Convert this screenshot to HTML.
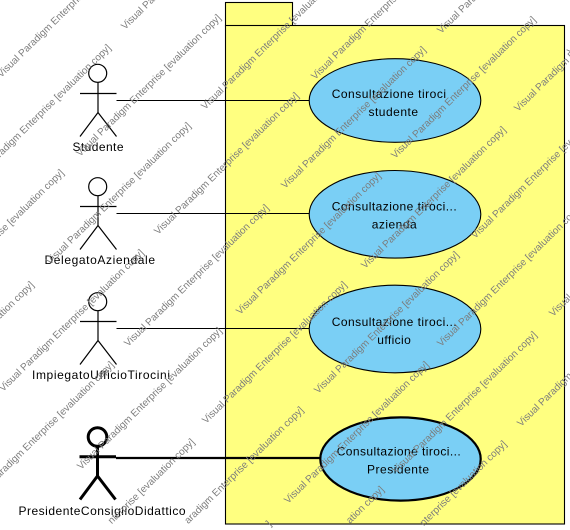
<!DOCTYPE html>
<html>
<head>
<meta charset="utf-8">
<title>Use case diagram</title>
<style>
html,body{margin:0;padding:0;background:#fff;width:570px;height:530px;overflow:hidden;}
svg{display:block;overflow:hidden;}
.lbl{font-family:"Liberation Sans",sans-serif;font-size:12px;fill:#000;}
.wm text{font-family:"Liberation Sans",sans-serif;font-size:10px;fill:#7c7c7c;}
.act{fill:none;stroke:#000;stroke-width:1.2;}
.act4{fill:none;stroke:#000;stroke-width:3;}
</style>
</head>
<body>
<svg width="570" height="530" viewBox="0 0 570 530" xmlns="http://www.w3.org/2000/svg">
<rect width="570" height="530" fill="#fff"/>

<g>
<rect x="225.5" y="2.5" width="67" height="23.5" fill="#ffff80" stroke="#000" stroke-width="1.1"/>
<rect x="225.5" y="25.5" width="339" height="498.5" fill="#ffff80" stroke="#000" stroke-width="1.1"/>
</g>

<line x1="116.5" y1="100.5" x2="310" y2="100.5" stroke="#000" stroke-width="1.1"/>
<line x1="116.5" y1="213.5" x2="310" y2="213.5" stroke="#000" stroke-width="1.1"/>
<line x1="116.5" y1="328.5" x2="310" y2="328.5" stroke="#000" stroke-width="1.1"/>
<line x1="116" y1="458" x2="321" y2="458" stroke="#000" stroke-width="2.2"/>

<g>
<circle class="act" cx="97.7" cy="73.3" r="9"/>
<path class="act" d="M98 82.3V112.5M80 93.5H116.5M80 136.5L98 112.5L116.5 136.5"/>
<text class="lbl" x="72.5" y="151" textLength="51" lengthAdjust="spacing">Studente</text>
</g>
<g>
<circle class="act" cx="97.7" cy="186.7" r="9"/>
<path class="act" d="M98 195.7V225.5M80 206.5H116.5M80 249.5L98 225.5L116.5 249.5"/>
<text class="lbl" x="44.5" y="264" textLength="110.5" lengthAdjust="spacing">DelegatoAziendale</text>
</g>
<g>
<circle class="act" cx="97.7" cy="301.7" r="9"/>
<path class="act" d="M98 310.7V340.5M80 321.5H116.5M80 364.5L98 340.5L116.5 364.5"/>
<text class="lbl" x="32" y="379" textLength="138" lengthAdjust="spacing">ImpiegatoUfficioTirocini</text>
</g>
<g>
<circle class="act4" cx="97.5" cy="437" r="9.3"/>
<path class="act4" d="M97.5 446.5V476M79.5 456.8H116M80 499.5L97.5 476L115.5 499.5"/>
<text class="lbl" x="18.5" y="515" textLength="167" lengthAdjust="spacing">PresidenteConsiglioDidattico</text>
</g>

<g>
<ellipse cx="395" cy="100.5" rx="85.8" ry="41.8" fill="#7acff5" stroke="#000" stroke-width="1.1"/>
<text class="lbl" x="331.7" y="98" textLength="114.3" lengthAdjust="spacing">Consultazione tiroci</text>
<text class="lbl" x="368.5" y="116" textLength="49.5" lengthAdjust="spacing">studente</text>
</g>
<g>
<ellipse cx="395" cy="214.3" rx="85.8" ry="43.8" fill="#7acff5" stroke="#000" stroke-width="1.1"/>
<text class="lbl" x="331.7" y="210.7" textLength="125" lengthAdjust="spacing">Consultazione tiroci...</text>
<text class="lbl" x="371.7" y="228.5" textLength="45" lengthAdjust="spacing">azienda</text>
</g>
<g>
<ellipse cx="395" cy="329" rx="85.8" ry="43.8" fill="#7acff5" stroke="#000" stroke-width="1.1"/>
<text class="lbl" x="331.7" y="326" textLength="125" lengthAdjust="spacing">Consultazione tiroci...</text>
<text class="lbl" x="377.3" y="344" textLength="33.5" lengthAdjust="spacing">ufficio</text>
</g>
<g>
<ellipse cx="400.5" cy="459" rx="80.2" ry="41.6" fill="#7acff5" stroke="#000" stroke-width="2.2"/>
<text class="lbl" x="336.7" y="455.7" textLength="124" lengthAdjust="spacing">Consultazione tiroci...</text>
<text class="lbl" x="367" y="473.5" textLength="62" lengthAdjust="spacing">Presidente</text>
</g>

<g class="wm">
<text transform="translate(1 78) rotate(-44.4)" textLength="198" lengthAdjust="spacing">Visual Paradigm Enterprise [evaluation copy]</text>
<text transform="translate(-30 187) rotate(-44.4)" textLength="198" lengthAdjust="spacing">Visual Paradigm Enterprise [evaluation copy]</text>
<text transform="translate(80 157) rotate(-44.4)" textLength="198" lengthAdjust="spacing">Visual Paradigm Enterprise [evaluation copy]</text>
<text transform="translate(125 30) rotate(-44.4)" textLength="198" lengthAdjust="spacing">Visual Paradigm Enterprise [evaluation copy]</text>
<text transform="translate(-77 312) rotate(-44.4)" textLength="198" lengthAdjust="spacing">Visual Paradigm Enterprise [evaluation copy]</text>
<text transform="translate(50 265) rotate(-44.4)" textLength="198" lengthAdjust="spacing">Visual Paradigm Enterprise [evaluation copy]</text>
<text transform="translate(158 235) rotate(-44.4)" textLength="198" lengthAdjust="spacing">Visual Paradigm Enterprise [evaluation copy]</text>
<text transform="translate(205 110) rotate(-44.4)" textLength="198" lengthAdjust="spacing">Visual Paradigm Enterprise [evaluation copy]</text>
<text transform="translate(128 347) rotate(-44.4)" textLength="198" lengthAdjust="spacing">Visual Paradigm Enterprise [evaluation copy]</text>
<text transform="translate(285 189) rotate(-44.4)" textLength="198" lengthAdjust="spacing">Visual Paradigm Enterprise [evaluation copy]</text>
<text transform="translate(315 80) rotate(-44.4)" textLength="198" lengthAdjust="spacing">Visual Paradigm Enterprise [evaluation copy]</text>
<text transform="translate(395 159) rotate(-44.4)" textLength="198" lengthAdjust="spacing">Visual Paradigm Enterprise [evaluation copy]</text>
<text transform="translate(441 34) rotate(-44.4)" textLength="198" lengthAdjust="spacing">Visual Paradigm Enterprise [evaluation copy]</text>
<text transform="translate(365 269) rotate(-44.4)" textLength="198" lengthAdjust="spacing">Visual Paradigm Enterprise [evaluation copy]</text>
<text transform="translate(518 112) rotate(-44.4)" textLength="198" lengthAdjust="spacing">Visual Paradigm Enterprise [evaluation copy]</text>
<text transform="translate(475 239) rotate(-44.4)" textLength="198" lengthAdjust="spacing">Visual Paradigm Enterprise [evaluation copy]</text>
<text transform="translate(240 315) rotate(-44.4)" textLength="198" lengthAdjust="spacing">Visual Paradigm Enterprise [evaluation copy]</text>
<text transform="translate(318 394) rotate(-44.4)" textLength="198" lengthAdjust="spacing">Visual Paradigm Enterprise [evaluation copy]</text>
<text transform="translate(441 347) rotate(-44.4)" textLength="198" lengthAdjust="spacing">Visual Paradigm Enterprise [evaluation copy]</text>
<text transform="translate(-107 424) rotate(-44.4)" textLength="198" lengthAdjust="spacing">Visual Paradigm Enterprise [evaluation copy]</text>
<text transform="translate(3 392) rotate(-44.4)" textLength="198" lengthAdjust="spacing">Visual Paradigm Enterprise [evaluation copy]</text>
<text transform="translate(-27 504) rotate(-44.4)" textLength="198" lengthAdjust="spacing">Visual Paradigm Enterprise [evaluation copy]</text>
<text transform="translate(81 470) rotate(-44.4)" textLength="198" lengthAdjust="spacing">Visual Paradigm Enterprise [evaluation copy]</text>
<text transform="translate(206 424) rotate(-44.4)" textLength="198" lengthAdjust="spacing">Visual Paradigm Enterprise [evaluation copy]</text>
<text transform="translate(111.8 524.4) rotate(-44.4)">nterprise [evaluation copy]</text>
<text transform="translate(188.2 524.3) rotate(-44.4)">aradigm Enterprise [evaluation copy]</text>
<text transform="translate(270 526.7) rotate(-44.4)">]</text>
<text transform="translate(288 504) rotate(-44.4)" textLength="198" lengthAdjust="spacing">Visual Paradigm Enterprise [evaluation copy]</text>
<text transform="translate(350 524) rotate(-44.4)">ation copy]</text>
<text transform="translate(423.8 526.4) rotate(-44.4)">nterprise [evaluation copy]</text>
<text transform="translate(396 474) rotate(-44.4)" textLength="198" lengthAdjust="spacing">Visual Paradigm Enterprise [evaluation copy]</text>
<text transform="translate(521 427) rotate(-44.4)" textLength="198" lengthAdjust="spacing">Visual Paradigm Enterprise [evaluation copy]</text>
<text transform="translate(553 317) rotate(-44.4)" textLength="198" lengthAdjust="spacing">Visual Paradigm Enterprise [evaluation copy]</text>
<text transform="translate(571 55) rotate(-44.4)" textLength="198" lengthAdjust="spacing">Visual Paradigm Enterprise [evaluation copy]</text>
</g>
</svg>
</body>
</html>
